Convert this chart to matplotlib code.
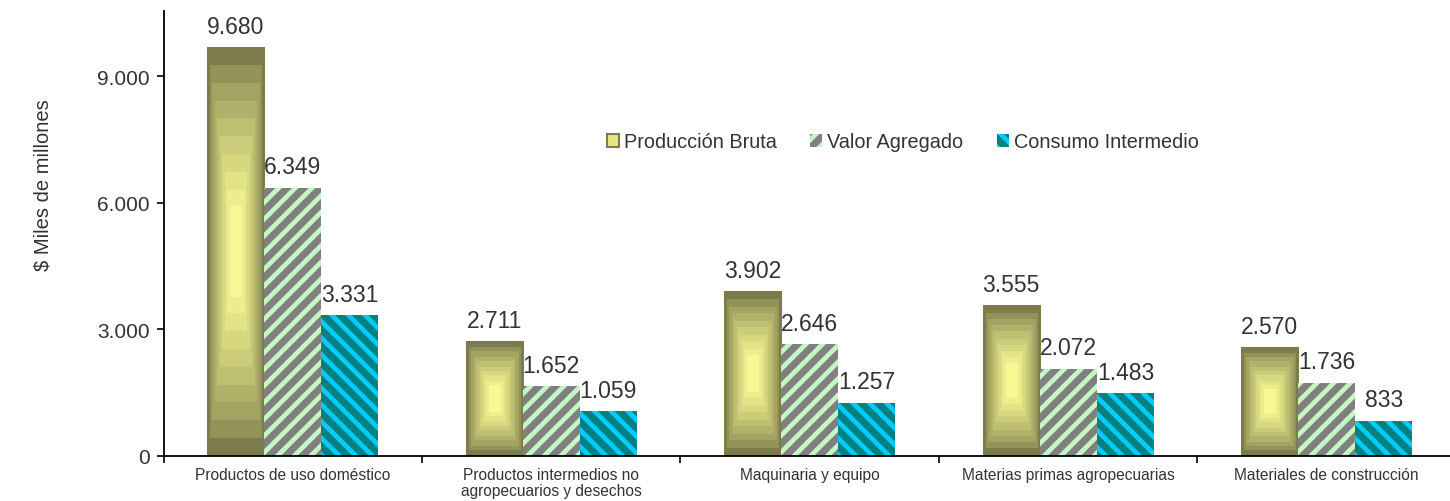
import numpy as np
import matplotlib
matplotlib.use("Agg")
import matplotlib.pyplot as plt
from matplotlib.patches import Patch
from matplotlib.ticker import FuncFormatter

categories = [
    "Productos de uso doméstico",
    "Productos intermedios no\nagropecuarios y desechos",
    "Maquinaria y equipo",
    "Materias primas agropecuarias",
    "Materiales de construcción",
]
produccion_bruta = [9680, 2711, 3902, 3555, 2570]
valor_agregado = [6349, 1652, 2646, 2072, 1736]
consumo_intermedio = [3331, 1059, 1257, 1483, 833]
series_names = ["Producción Bruta", "Valor Agregado", "Consumo Intermedio"]

plt.rcParams["font.family"] = ["Liberation Sans", "DejaVu Sans"]
plt.rcParams["hatch.linewidth"] = 3.4
txt = "#333333"

fig = plt.figure(figsize=(14.5, 5.02), dpi=100)
# plot area runs a little past the right edge of the image, as in the original
ax = fig.add_axes([163.5 / 1450, 45 / 502, 1292.5 / 1450, 445 / 502])

x = np.arange(len(categories))
w = 0.221

# concentric rectangle gradient for Producción Bruta
dark = np.array([0x7b, 0x7b, 0x4b]) / 255
light = np.array([0xf8, 0xf8, 0x94]) / 255
n = 64


def gradient_bar(x0, h):
    ny = max(int(n * h / 3000.0), 8)
    gy, gx = np.mgrid[-1:1:ny * 1j, -1:1:n * 1j]
    d = np.maximum(np.abs(gx), np.abs(gy))
    d = np.clip((d - 0.22) / 0.78, 0, 1)
    d = np.ceil(d * 9) / 9
    t = 1 - d
    img = dark[None, None, :] + (light - dark)[None, None, :] * t[..., None] ** 0.75
    ax.imshow(img, extent=(x0, x0 + w, 0, h), aspect="auto", zorder=2,
              interpolation="nearest")


for i, v in enumerate(produccion_bruta):
    gradient_bar(x[i] - 1.5 * w, v)

ax.bar(x, valor_agregado, w, facecolor="#808080", edgecolor="#c4f7c4",
       hatch="//", linewidth=0, zorder=2)
ax.bar(x + w, consumo_intermedio, w, facecolor="#008080", edgecolor="#00ccff",
       hatch="\\\\", linewidth=0, zorder=2)

fmt = lambda v: f"{v:,.0f}".replace(",", ".")
for off, vals in zip([-w, 0, w], [produccion_bruta, valor_agregado, consumo_intermedio]):
    for xi, v in zip(x, vals):
        ax.annotate(fmt(v), (xi + off, v), xytext=(0, 7), textcoords="offset points",
                    ha="center", va="bottom", fontsize=16.5, color=txt)

ax.set_xlim(-0.5, len(categories) - 0.5)
ax.set_ylim(0, 10540)
ax.set_yticks([0, 3000, 6000, 9000])
ax.yaxis.set_major_formatter(FuncFormatter(lambda v, p: fmt(v)))
ax.tick_params(axis="y", labelsize=15, labelcolor=txt, length=5, width=1.2, pad=5)
ax.set_xticks(x)
ax.set_xticklabels(categories, fontsize=11.2, color=txt, linespacing=1.1)
ax.tick_params(axis="x", which="major", length=0, pad=8)
ax.set_xticks(np.arange(len(categories) + 1) - 0.5, minor=True)
ax.tick_params(axis="x", which="minor", length=5, width=1.2)
for s in ["top", "right"]:
    ax.spines[s].set_visible(False)
ax.spines["left"].set_linewidth(1.3)
ax.spines["bottom"].set_linewidth(1.3)

ax.set_ylabel("$ Miles de millones", fontsize=14.5, color=txt)
ax.yaxis.set_label_coords(-0.086, 0.611)

handles = [
    Patch(facecolor="#e8e880", edgecolor="#7b7b4b", linewidth=1.5),
    Patch(facecolor="#808080", edgecolor="#c4f7c4", hatch="//", linewidth=0),
    Patch(facecolor="#008080", edgecolor="#00ccff", hatch="\\\\", linewidth=0),
]
leg = fig.legend(handles, series_names, loc="center", bbox_to_anchor=(903 / 1450, 1 - 143 / 502),
                 ncol=3, frameon=False, fontsize=14.3, handlelength=0.6, handleheight=0.6,
                 handletextpad=0.25, columnspacing=1.7)
for t in leg.get_texts():
    t.set_color(txt)

fig.savefig("out.png", dpi=100)
